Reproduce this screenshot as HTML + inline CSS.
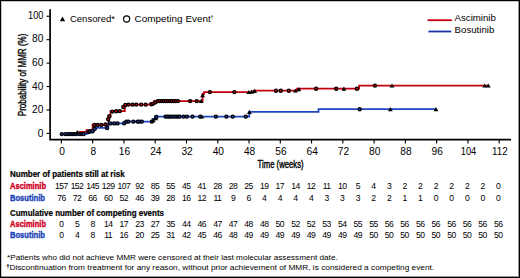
<!DOCTYPE html>
<html><head><meta charset="utf-8"><style>
html,body{margin:0;padding:0;background:#fff;}
#c{position:relative;width:520px;height:278px;overflow:hidden;background:#fff;}
#b{position:absolute;left:0;top:0;width:518px;height:276px;border:1px solid #000;box-shadow:inset 1px 1px 0 rgba(0,0,0,0.22), inset -1px -1px 0 rgba(0,0,0,0.4);}
svg{position:absolute;left:0;top:0;}
</style></head><body><div id="c"><div id="b"></div>
<svg width="520" height="278" viewBox="0 0 520 278" font-family="&quot;Liberation Sans&quot;, sans-serif" fill="#000">
<path d="M50.1,9.2 V139.7 H511" fill="none" stroke="#000" stroke-width="1.7"/>
<line x1="46.5" y1="133.40" x2="50" y2="133.40" stroke="#000" stroke-width="1.1"/>
<text x="43.4" y="136.90" font-size="10.2" text-anchor="end">0</text>
<line x1="46.5" y1="109.97" x2="50" y2="109.97" stroke="#000" stroke-width="1.1"/>
<text x="43.4" y="113.29" font-size="10.2" text-anchor="end">20</text>
<line x1="46.5" y1="86.54" x2="50" y2="86.54" stroke="#000" stroke-width="1.1"/>
<text x="43.4" y="89.68" font-size="10.2" text-anchor="end">40</text>
<line x1="46.5" y1="63.11" x2="50" y2="63.11" stroke="#000" stroke-width="1.1"/>
<text x="43.4" y="66.07" font-size="10.2" text-anchor="end">60</text>
<line x1="46.5" y1="39.68" x2="50" y2="39.68" stroke="#000" stroke-width="1.1"/>
<text x="43.4" y="42.46" font-size="10.2" text-anchor="end">80</text>
<line x1="46.5" y1="16.25" x2="50" y2="16.25" stroke="#000" stroke-width="1.1"/>
<text x="43.4" y="18.85" font-size="10.2" text-anchor="end" textLength="15.4" lengthAdjust="spacingAndGlyphs">100</text>
<line x1="61.40" y1="139.5" x2="61.40" y2="143.5" stroke="#000" stroke-width="1.1"/>
<text x="62.00" y="154.6" font-size="10.2" text-anchor="middle">0</text>
<line x1="92.67" y1="139.5" x2="92.67" y2="143.5" stroke="#000" stroke-width="1.1"/>
<text x="93.27" y="154.6" font-size="10.2" text-anchor="middle">8</text>
<line x1="123.94" y1="139.5" x2="123.94" y2="143.5" stroke="#000" stroke-width="1.1"/>
<text x="124.54" y="154.6" font-size="10.2" text-anchor="middle">16</text>
<line x1="155.21" y1="139.5" x2="155.21" y2="143.5" stroke="#000" stroke-width="1.1"/>
<text x="155.81" y="154.6" font-size="10.2" text-anchor="middle">24</text>
<line x1="186.49" y1="139.5" x2="186.49" y2="143.5" stroke="#000" stroke-width="1.1"/>
<text x="187.09" y="154.6" font-size="10.2" text-anchor="middle">32</text>
<line x1="217.76" y1="139.5" x2="217.76" y2="143.5" stroke="#000" stroke-width="1.1"/>
<text x="218.36" y="154.6" font-size="10.2" text-anchor="middle">40</text>
<line x1="249.03" y1="139.5" x2="249.03" y2="143.5" stroke="#000" stroke-width="1.1"/>
<text x="249.63" y="154.6" font-size="10.2" text-anchor="middle">48</text>
<line x1="280.30" y1="139.5" x2="280.30" y2="143.5" stroke="#000" stroke-width="1.1"/>
<text x="280.90" y="154.6" font-size="10.2" text-anchor="middle">56</text>
<line x1="311.57" y1="139.5" x2="311.57" y2="143.5" stroke="#000" stroke-width="1.1"/>
<text x="312.17" y="154.6" font-size="10.2" text-anchor="middle">64</text>
<line x1="342.84" y1="139.5" x2="342.84" y2="143.5" stroke="#000" stroke-width="1.1"/>
<text x="343.44" y="154.6" font-size="10.2" text-anchor="middle">72</text>
<line x1="374.11" y1="139.5" x2="374.11" y2="143.5" stroke="#000" stroke-width="1.1"/>
<text x="374.71" y="154.6" font-size="10.2" text-anchor="middle">80</text>
<line x1="405.39" y1="139.5" x2="405.39" y2="143.5" stroke="#000" stroke-width="1.1"/>
<text x="405.99" y="154.6" font-size="10.2" text-anchor="middle">88</text>
<line x1="436.66" y1="139.5" x2="436.66" y2="143.5" stroke="#000" stroke-width="1.1"/>
<text x="437.26" y="154.6" font-size="10.2" text-anchor="middle">96</text>
<line x1="467.93" y1="139.5" x2="467.93" y2="143.5" stroke="#000" stroke-width="1.1"/>
<text x="468.53" y="154.6" font-size="10.2" text-anchor="middle" textLength="15.6" lengthAdjust="spacingAndGlyphs">104</text>
<line x1="499.20" y1="139.5" x2="499.20" y2="143.5" stroke="#000" stroke-width="1.1"/>
<text x="499.80" y="154.6" font-size="10.2" text-anchor="middle" textLength="15.6" lengthAdjust="spacingAndGlyphs">112</text>
<text x="257.6" y="168.4" font-size="10.6" stroke="#000" stroke-width="0.4" textLength="46" lengthAdjust="spacingAndGlyphs">Time (weeks)</text>
<text transform="translate(25.9,116.2) rotate(-90)" x="0" y="0" font-size="11" stroke="#000" stroke-width="0.4" textLength="82.6" lengthAdjust="spacingAndGlyphs">Probability of MMR (%)</text>
<path d="M59.9,21.2 L62.5,16.6 L65.1,21.2 Z" fill="#000"/>
<text x="69.9" y="22.4" font-size="9.9" textLength="45.2" lengthAdjust="spacingAndGlyphs">Censored*</text>
<circle cx="126.6" cy="19" r="3.1" fill="none" stroke="#000" stroke-width="1.15"/>
<text x="134.6" y="22.4" font-size="9.9" textLength="76.2" lengthAdjust="spacingAndGlyphs">Competing Event</text>
<text x="210.6" y="19.4" font-size="5.6">&#8224;</text>
<line x1="427.6" y1="20.2" x2="451.8" y2="20.2" stroke="#c4000e" stroke-width="1.8"/>
<line x1="428.4" y1="31.5" x2="451.3" y2="31.5" stroke="#1a33a8" stroke-width="1.8"/>
<text x="454.6" y="21.0" font-size="9.9" textLength="41.3" lengthAdjust="spacingAndGlyphs">Asciminib</text>
<text x="454.6" y="32.8" font-size="9.9" textLength="39.7" lengthAdjust="spacingAndGlyphs">Bosutinib</text>
<path d="M61.5,134.1 H79.3 V131.8 H86.5 V130.2 H92.6 V124.9 H108.6 V116.3 H110.5 V111.1 H124.8 V104.6 H150 V103.5 H154 V101.1 H202.6 V94 H204 V92.1 H253.5 V90.7 H297 V88.7 H359.1 V85.6 H488.3" fill="none" stroke="#c4000e" stroke-width="1.8"/>
<path d="M61.5,134.1 H86.5 V132.5 H90.5 V131.2 H93.8 V129.2 H95.8 V127.8 H108.3 V123.4 H124.5 V121.6 H152.5 V119 H155 V116.6 H249.3 V111.9 H318.5 V109.2 H436" fill="none" stroke="#1f46be" stroke-width="1.8"/>
<circle cx="61.8" cy="134.1" r="1.55" fill="#1f46be" stroke="#000" stroke-width="1.3"/>
<circle cx="65.6" cy="134.1" r="1.55" fill="#1f46be" stroke="#000" stroke-width="1.3"/>
<circle cx="68.2" cy="134.1" r="1.55" fill="#1f46be" stroke="#000" stroke-width="1.3"/>
<circle cx="70.4" cy="134.1" r="1.55" fill="#1f46be" stroke="#000" stroke-width="1.3"/>
<circle cx="72.3" cy="134.1" r="1.55" fill="#1f46be" stroke="#000" stroke-width="1.3"/>
<circle cx="74.3" cy="134.1" r="1.55" fill="#1f46be" stroke="#000" stroke-width="1.3"/>
<circle cx="76.2" cy="134.1" r="1.55" fill="#1f46be" stroke="#000" stroke-width="1.3"/>
<circle cx="79.8" cy="134.1" r="1.55" fill="#1f46be" stroke="#000" stroke-width="1.3"/>
<circle cx="81.9" cy="134.1" r="1.55" fill="#1f46be" stroke="#000" stroke-width="1.3"/>
<circle cx="83.6" cy="134.1" r="1.55" fill="#1f46be" stroke="#000" stroke-width="1.3"/>
<path d="M74.90,134.20 L77.30,130.00 L79.70,134.20 Z" fill="#000"/>
<circle cx="88.4" cy="132.0" r="1.55" fill="#c4000e" stroke="#000" stroke-width="1.3"/>
<circle cx="90.0" cy="131.4" r="1.55" fill="#1f46be" stroke="#000" stroke-width="1.3"/>
<circle cx="92.6" cy="131.2" r="1.55" fill="#1f46be" stroke="#000" stroke-width="1.3"/>
<circle cx="94.6" cy="128.9" r="1.55" fill="#1f46be" stroke="#000" stroke-width="1.3"/>
<circle cx="107.1" cy="128.0" r="1.55" fill="#1f46be" stroke="#000" stroke-width="1.3"/>
<circle cx="94.3" cy="124.9" r="1.55" fill="#c4000e" stroke="#000" stroke-width="1.3"/>
<circle cx="97.6" cy="124.9" r="1.55" fill="#c4000e" stroke="#000" stroke-width="1.3"/>
<circle cx="101.3" cy="124.9" r="1.55" fill="#c4000e" stroke="#000" stroke-width="1.3"/>
<circle cx="105.5" cy="124.4" r="1.55" fill="#c4000e" stroke="#000" stroke-width="1.3"/>
<circle cx="108.2" cy="119.3" r="1.55" fill="#c4000e" stroke="#000" stroke-width="1.3"/>
<circle cx="109.3" cy="116.2" r="1.55" fill="#c4000e" stroke="#000" stroke-width="1.3"/>
<circle cx="112.3" cy="111.6" r="1.55" fill="#c4000e" stroke="#000" stroke-width="1.3"/>
<circle cx="116.2" cy="111.2" r="1.55" fill="#c4000e" stroke="#000" stroke-width="1.3"/>
<circle cx="119.8" cy="111.1" r="1.55" fill="#c4000e" stroke="#000" stroke-width="1.3"/>
<circle cx="123.3" cy="107" r="1.55" fill="#c4000e" stroke="#000" stroke-width="1.3"/>
<circle cx="125.3" cy="105" r="1.55" fill="#c4000e" stroke="#000" stroke-width="1.3"/>
<circle cx="128.5" cy="104.6" r="1.55" fill="#c4000e" stroke="#000" stroke-width="1.3"/>
<circle cx="132.5" cy="104.6" r="1.55" fill="#c4000e" stroke="#000" stroke-width="1.3"/>
<circle cx="136.2" cy="104.6" r="1.55" fill="#c4000e" stroke="#000" stroke-width="1.3"/>
<circle cx="141.1" cy="104.6" r="1.55" fill="#c4000e" stroke="#000" stroke-width="1.3"/>
<circle cx="145.7" cy="104.6" r="1.55" fill="#c4000e" stroke="#000" stroke-width="1.3"/>
<circle cx="151.5" cy="104.2" r="1.55" fill="#c4000e" stroke="#000" stroke-width="1.3"/>
<circle cx="153.3" cy="103.6" r="1.55" fill="#c4000e" stroke="#000" stroke-width="1.3"/>
<circle cx="155.5" cy="102.3" r="1.55" fill="#c4000e" stroke="#000" stroke-width="1.3"/>
<circle cx="110.2" cy="123.4" r="1.55" fill="#1f46be" stroke="#000" stroke-width="1.3"/>
<circle cx="114.1" cy="123.4" r="1.55" fill="#1f46be" stroke="#000" stroke-width="1.3"/>
<circle cx="117.5" cy="123.4" r="1.55" fill="#1f46be" stroke="#000" stroke-width="1.3"/>
<circle cx="124.2" cy="123.2" r="1.55" fill="#1f46be" stroke="#000" stroke-width="1.3"/>
<circle cx="126.5" cy="121.6" r="1.55" fill="#1f46be" stroke="#000" stroke-width="1.3"/>
<circle cx="128.4" cy="121.6" r="1.55" fill="#1f46be" stroke="#000" stroke-width="1.3"/>
<circle cx="133.4" cy="121.6" r="1.55" fill="#1f46be" stroke="#000" stroke-width="1.3"/>
<circle cx="137.6" cy="121.6" r="1.55" fill="#1f46be" stroke="#000" stroke-width="1.3"/>
<circle cx="139.6" cy="121.6" r="1.55" fill="#1f46be" stroke="#000" stroke-width="1.3"/>
<circle cx="141.8" cy="121.6" r="1.55" fill="#1f46be" stroke="#000" stroke-width="1.3"/>
<circle cx="151.9" cy="121.6" r="1.55" fill="#1f46be" stroke="#000" stroke-width="1.3"/>
<path d="M150.90,122.20 L153.30,118.00 L155.70,122.20 Z" fill="#000"/>
<path d="M153.20,120.20 L155.60,116.00 L158.00,120.20 Z" fill="#000"/>
<circle cx="156.4" cy="117.0" r="1.55" fill="#1f46be" stroke="#000" stroke-width="1.3"/>
<circle cx="157.8" cy="101.1" r="1.55" fill="#c4000e" stroke="#000" stroke-width="1.3"/>
<circle cx="159.8" cy="101.1" r="1.55" fill="#c4000e" stroke="#000" stroke-width="1.3"/>
<circle cx="161.8" cy="101.1" r="1.55" fill="#c4000e" stroke="#000" stroke-width="1.3"/>
<circle cx="163.8" cy="101.1" r="1.55" fill="#c4000e" stroke="#000" stroke-width="1.3"/>
<circle cx="165.8" cy="101.1" r="1.55" fill="#c4000e" stroke="#000" stroke-width="1.3"/>
<circle cx="167.8" cy="101.1" r="1.55" fill="#c4000e" stroke="#000" stroke-width="1.3"/>
<circle cx="169.8" cy="101.1" r="1.55" fill="#c4000e" stroke="#000" stroke-width="1.3"/>
<circle cx="171.8" cy="101.1" r="1.55" fill="#c4000e" stroke="#000" stroke-width="1.3"/>
<circle cx="173.8" cy="101.1" r="1.55" fill="#c4000e" stroke="#000" stroke-width="1.3"/>
<circle cx="175.8" cy="101.1" r="1.55" fill="#c4000e" stroke="#000" stroke-width="1.3"/>
<circle cx="178" cy="101.1" r="1.55" fill="#c4000e" stroke="#000" stroke-width="1.3"/>
<circle cx="190.1" cy="101.1" r="1.55" fill="#c4000e" stroke="#000" stroke-width="1.3"/>
<circle cx="196.7" cy="101.1" r="1.55" fill="#c4000e" stroke="#000" stroke-width="1.3"/>
<path d="M198.80,102.90 L201.20,98.70 L203.60,102.90 Z" fill="#000"/>
<path d="M200.20,97.20 L202.60,93.00 L205.00,97.20 Z" fill="#000"/>
<circle cx="209.9" cy="92.1" r="1.55" fill="#c4000e" stroke="#000" stroke-width="1.3"/>
<circle cx="234.4" cy="92.1" r="1.55" fill="#c4000e" stroke="#000" stroke-width="1.3"/>
<path d="M246.40,94.10 L248.80,89.90 L251.20,94.10 Z" fill="#000"/>
<path d="M249.20,93.70 L251.60,89.50 L254.00,93.70 Z" fill="#000"/>
<path d="M252.20,92.90 L254.60,88.70 L257.00,92.90 Z" fill="#000"/>
<circle cx="276" cy="90.7" r="1.55" fill="#c4000e" stroke="#000" stroke-width="1.3"/>
<circle cx="280.8" cy="90.7" r="1.55" fill="#c4000e" stroke="#000" stroke-width="1.3"/>
<circle cx="288.8" cy="90.7" r="1.55" fill="#c4000e" stroke="#000" stroke-width="1.3"/>
<path d="M293.00,92.60 L295.40,88.40 L297.80,92.60 Z" fill="#000"/>
<path d="M296.40,91.20 L298.80,87.00 L301.20,91.20 Z" fill="#000"/>
<circle cx="316.1" cy="88.7" r="1.55" fill="#c4000e" stroke="#000" stroke-width="1.3"/>
<circle cx="336.2" cy="88.7" r="1.55" fill="#c4000e" stroke="#000" stroke-width="1.3"/>
<circle cx="356.9" cy="88.7" r="1.55" fill="#c4000e" stroke="#000" stroke-width="1.3"/>
<path d="M341.50,90.70 L343.90,86.50 L346.30,90.70 Z" fill="#000"/>
<circle cx="375" cy="85.6" r="1.55" fill="#c4000e" stroke="#000" stroke-width="1.3"/>
<path d="M389.60,87.60 L392.00,83.40 L394.40,87.60 Z" fill="#000"/>
<path d="M482.30,87.60 L484.70,83.40 L487.10,87.60 Z" fill="#000"/>
<path d="M485.90,87.60 L488.30,83.40 L490.70,87.60 Z" fill="#000"/>
<circle cx="165.6" cy="116.6" r="1.55" fill="#1f46be" stroke="#000" stroke-width="1.3"/>
<circle cx="167.5" cy="116.6" r="1.55" fill="#1f46be" stroke="#000" stroke-width="1.3"/>
<circle cx="169.4" cy="116.6" r="1.55" fill="#1f46be" stroke="#000" stroke-width="1.3"/>
<circle cx="171.2" cy="116.6" r="1.55" fill="#1f46be" stroke="#000" stroke-width="1.3"/>
<circle cx="173.5" cy="116.6" r="1.55" fill="#1f46be" stroke="#000" stroke-width="1.3"/>
<circle cx="175.8" cy="116.6" r="1.55" fill="#1f46be" stroke="#000" stroke-width="1.3"/>
<circle cx="177.8" cy="116.6" r="1.55" fill="#1f46be" stroke="#000" stroke-width="1.3"/>
<circle cx="179.6" cy="116.6" r="1.55" fill="#1f46be" stroke="#000" stroke-width="1.3"/>
<circle cx="183.5" cy="116.6" r="1.55" fill="#1f46be" stroke="#000" stroke-width="1.3"/>
<circle cx="186.9" cy="116.6" r="1.55" fill="#1f46be" stroke="#000" stroke-width="1.3"/>
<circle cx="192.5" cy="116.6" r="1.55" fill="#1f46be" stroke="#000" stroke-width="1.3"/>
<circle cx="200.3" cy="116.6" r="1.55" fill="#1f46be" stroke="#000" stroke-width="1.3"/>
<circle cx="215.9" cy="116.6" r="1.55" fill="#1f46be" stroke="#000" stroke-width="1.3"/>
<circle cx="226.4" cy="116.6" r="1.55" fill="#1f46be" stroke="#000" stroke-width="1.3"/>
<circle cx="232.7" cy="116.6" r="1.55" fill="#1f46be" stroke="#000" stroke-width="1.3"/>
<circle cx="245.8" cy="116.6" r="1.55" fill="#1f46be" stroke="#000" stroke-width="1.3"/>
<path d="M199.40,118.60 L201.80,114.40 L204.20,118.60 Z" fill="#000"/>
<path d="M247.00,114.00 L249.40,109.80 L251.80,114.00 Z" fill="#000"/>
<circle cx="359.7" cy="109.2" r="1.55" fill="#1f46be" stroke="#000" stroke-width="1.3"/>
<path d="M388.00,111.20 L390.40,107.00 L392.80,111.20 Z" fill="#000"/>
<path d="M433.60,111.20 L436.00,107.00 L438.40,111.20 Z" fill="#000"/>
<text x="10" y="177.1" font-size="8.4" font-weight="bold" stroke="#000" stroke-width="0.2" textLength="114.6" lengthAdjust="spacingAndGlyphs">Number of patients still at risk</text>
<text x="10" y="188.9" font-size="8.4" font-weight="bold" fill="#d2001e" stroke="#d2001e" stroke-width="0.35" textLength="36" lengthAdjust="spacingAndGlyphs">Asciminib</text>
<text x="10" y="201" font-size="8.4" font-weight="bold" fill="#1c44b8" stroke="#1c44b8" stroke-width="0.35" textLength="35" lengthAdjust="spacingAndGlyphs">Bosutinib</text>
<text x="10" y="215.6" font-size="8.4" font-weight="bold" stroke="#000" stroke-width="0.2" textLength="154" lengthAdjust="spacingAndGlyphs">Cumulative number of competing events</text>
<text x="10" y="227" font-size="8.4" font-weight="bold" fill="#d2001e" stroke="#d2001e" stroke-width="0.35" textLength="36" lengthAdjust="spacingAndGlyphs">Asciminib</text>
<text x="10" y="238.1" font-size="8.4" font-weight="bold" fill="#1c44b8" stroke="#1c44b8" stroke-width="0.35" textLength="35" lengthAdjust="spacingAndGlyphs">Bosutinib</text>
<g font-size="8.6" letter-spacing="-0.55"><text x="61.40" y="189.4" text-anchor="middle">157</text><text x="77.00" y="189.4" text-anchor="middle">152</text><text x="92.60" y="189.4" text-anchor="middle">145</text><text x="108.20" y="189.4" text-anchor="middle">129</text><text x="123.80" y="189.4" text-anchor="middle">107</text><text x="139.40" y="189.4" text-anchor="middle">92</text><text x="155.00" y="189.4" text-anchor="middle">85</text><text x="170.60" y="189.4" text-anchor="middle">55</text><text x="186.20" y="189.4" text-anchor="middle">45</text><text x="201.80" y="189.4" text-anchor="middle">41</text><text x="217.40" y="189.4" text-anchor="middle">28</text><text x="233.00" y="189.4" text-anchor="middle">28</text><text x="248.60" y="189.4" text-anchor="middle">25</text><text x="264.20" y="189.4" text-anchor="middle">19</text><text x="279.80" y="189.4" text-anchor="middle">17</text><text x="295.40" y="189.4" text-anchor="middle">14</text><text x="311.00" y="189.4" text-anchor="middle">12</text><text x="326.60" y="189.4" text-anchor="middle">11</text><text x="342.20" y="189.4" text-anchor="middle">10</text><text x="357.80" y="189.4" text-anchor="middle">5</text><text x="373.40" y="189.4" text-anchor="middle">4</text><text x="389.00" y="189.4" text-anchor="middle">3</text><text x="404.60" y="189.4" text-anchor="middle">2</text><text x="420.20" y="189.4" text-anchor="middle">2</text><text x="435.80" y="189.4" text-anchor="middle">2</text><text x="451.40" y="189.4" text-anchor="middle">2</text><text x="467.00" y="189.4" text-anchor="middle">2</text><text x="482.60" y="189.4" text-anchor="middle">2</text><text x="498.20" y="189.4" text-anchor="middle">0</text></g>
<g font-size="8.6" letter-spacing="-0.55"><text x="61.40" y="201" text-anchor="middle">76</text><text x="77.00" y="201" text-anchor="middle">72</text><text x="92.60" y="201" text-anchor="middle">66</text><text x="108.20" y="201" text-anchor="middle">60</text><text x="123.80" y="201" text-anchor="middle">52</text><text x="139.40" y="201" text-anchor="middle">46</text><text x="155.00" y="201" text-anchor="middle">39</text><text x="170.60" y="201" text-anchor="middle">28</text><text x="186.20" y="201" text-anchor="middle">16</text><text x="201.80" y="201" text-anchor="middle">12</text><text x="217.40" y="201" text-anchor="middle">11</text><text x="233.00" y="201" text-anchor="middle">9</text><text x="248.60" y="201" text-anchor="middle">6</text><text x="264.20" y="201" text-anchor="middle">4</text><text x="279.80" y="201" text-anchor="middle">4</text><text x="295.40" y="201" text-anchor="middle">4</text><text x="311.00" y="201" text-anchor="middle">4</text><text x="326.60" y="201" text-anchor="middle">3</text><text x="342.20" y="201" text-anchor="middle">3</text><text x="357.80" y="201" text-anchor="middle">3</text><text x="373.40" y="201" text-anchor="middle">2</text><text x="389.00" y="201" text-anchor="middle">2</text><text x="404.60" y="201" text-anchor="middle">1</text><text x="420.20" y="201" text-anchor="middle">1</text><text x="435.80" y="201" text-anchor="middle">0</text><text x="451.40" y="201" text-anchor="middle">0</text><text x="467.00" y="201" text-anchor="middle">0</text><text x="482.60" y="201" text-anchor="middle">0</text><text x="498.20" y="201" text-anchor="middle">0</text></g>
<g font-size="8.6" letter-spacing="-0.55"><text x="61.40" y="226.9" text-anchor="middle">0</text><text x="77.00" y="226.9" text-anchor="middle">5</text><text x="92.60" y="226.9" text-anchor="middle">8</text><text x="108.20" y="226.9" text-anchor="middle">14</text><text x="123.80" y="226.9" text-anchor="middle">17</text><text x="139.40" y="226.9" text-anchor="middle">23</text><text x="155.00" y="226.9" text-anchor="middle">27</text><text x="170.60" y="226.9" text-anchor="middle">35</text><text x="186.20" y="226.9" text-anchor="middle">44</text><text x="201.80" y="226.9" text-anchor="middle">46</text><text x="217.40" y="226.9" text-anchor="middle">47</text><text x="233.00" y="226.9" text-anchor="middle">47</text><text x="248.60" y="226.9" text-anchor="middle">48</text><text x="264.20" y="226.9" text-anchor="middle">48</text><text x="279.80" y="226.9" text-anchor="middle">50</text><text x="295.40" y="226.9" text-anchor="middle">52</text><text x="311.00" y="226.9" text-anchor="middle">52</text><text x="326.60" y="226.9" text-anchor="middle">53</text><text x="342.20" y="226.9" text-anchor="middle">54</text><text x="357.80" y="226.9" text-anchor="middle">55</text><text x="373.40" y="226.9" text-anchor="middle">55</text><text x="389.00" y="226.9" text-anchor="middle">56</text><text x="404.60" y="226.9" text-anchor="middle">56</text><text x="420.20" y="226.9" text-anchor="middle">56</text><text x="435.80" y="226.9" text-anchor="middle">56</text><text x="451.40" y="226.9" text-anchor="middle">56</text><text x="467.00" y="226.9" text-anchor="middle">56</text><text x="482.60" y="226.9" text-anchor="middle">56</text><text x="498.20" y="226.9" text-anchor="middle">56</text></g>
<g font-size="8.6" letter-spacing="-0.55"><text x="61.40" y="238.2" text-anchor="middle">0</text><text x="77.00" y="238.2" text-anchor="middle">4</text><text x="92.60" y="238.2" text-anchor="middle">8</text><text x="108.20" y="238.2" text-anchor="middle">11</text><text x="123.80" y="238.2" text-anchor="middle">16</text><text x="139.40" y="238.2" text-anchor="middle">20</text><text x="155.00" y="238.2" text-anchor="middle">25</text><text x="170.60" y="238.2" text-anchor="middle">31</text><text x="186.20" y="238.2" text-anchor="middle">42</text><text x="201.80" y="238.2" text-anchor="middle">45</text><text x="217.40" y="238.2" text-anchor="middle">46</text><text x="233.00" y="238.2" text-anchor="middle">48</text><text x="248.60" y="238.2" text-anchor="middle">49</text><text x="264.20" y="238.2" text-anchor="middle">49</text><text x="279.80" y="238.2" text-anchor="middle">49</text><text x="295.40" y="238.2" text-anchor="middle">49</text><text x="311.00" y="238.2" text-anchor="middle">49</text><text x="326.60" y="238.2" text-anchor="middle">49</text><text x="342.20" y="238.2" text-anchor="middle">49</text><text x="357.80" y="238.2" text-anchor="middle">49</text><text x="373.40" y="238.2" text-anchor="middle">50</text><text x="389.00" y="238.2" text-anchor="middle">50</text><text x="404.60" y="238.2" text-anchor="middle">50</text><text x="420.20" y="238.2" text-anchor="middle">50</text><text x="435.80" y="238.2" text-anchor="middle">50</text><text x="451.40" y="238.2" text-anchor="middle">50</text><text x="467.00" y="238.2" text-anchor="middle">50</text><text x="482.60" y="238.2" text-anchor="middle">50</text><text x="498.20" y="238.2" text-anchor="middle">50</text></g>
<text x="7.1" y="259.9" font-size="7.4" textLength="330.6" lengthAdjust="spacingAndGlyphs">*Patients who did not achieve MMR were censored at their last molecular assessment date.</text>
<text x="6.6" y="267.7" font-size="5" stroke="#000" stroke-width="0.2">&#8224;</text>
<text x="9.4" y="270.0" font-size="7.4" textLength="424.8" lengthAdjust="spacingAndGlyphs">Discontinuation from treatment for any reason, without prior achievement of MMR, is considered a competing event.</text>
</svg></div></body></html>
